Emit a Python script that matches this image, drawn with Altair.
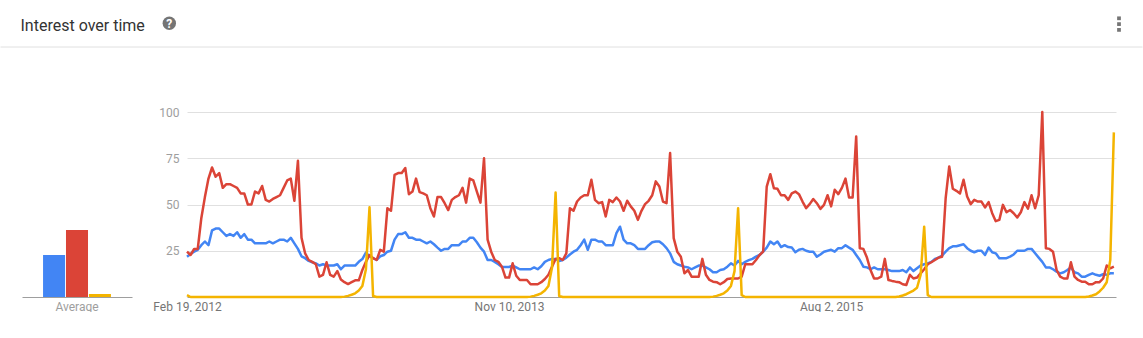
import altair as alt
import pandas as pd

# ---------------- data ----------------
series_names = ["Search term 1", "Search term 2", "Search term 3"]
series_colors = ["#4285F4", "#DB4437", "#F4B400"]

# averages (left mini bar chart)
avg_values = [22.7, 36.2, 1.6]
avg_label = "Average"

# weekly interest, first week = Feb 19, 2012
blue = [
    21.8, 23.3, 24.5, 25.5, 28, 30, 28, 36, 37, 37,
    35, 33, 34, 33, 35, 32, 34, 31, 31, 29,
    29, 29, 29, 30, 29, 30, 31, 31, 30, 32,
    29, 26, 22, 21, 19.5, 18.8, 18.2, 17, 17.7, 17,
    17, 17, 17.7, 15, 17, 17, 17, 17, 19, 20.5,
    24, 22, 21, 20, 22, 22.7, 24.5, 25, 31, 34,
    34, 35, 32, 32, 31, 31, 30, 29, 30, 28.5,
    26.7, 25, 26, 26, 28, 28, 28, 30, 30, 32,
    32, 29.6, 26.7, 24.5, 20, 20, 19, 17.7, 16.2, 16.2,
    16.2, 17, 16, 15, 15, 15, 15, 16, 15, 16.6,
    19, 20, 20.6, 20.6, 19.5, 20, 21.3, 23, 24.5, 25.5,
    28, 31, 25.5, 31, 31, 30, 30, 28, 28, 28,
    34.5, 38, 31, 29, 29, 28, 26, 26, 26, 28,
    29.6, 30, 30, 28.5, 26.4, 23.6, 19, 17.7, 17, 16.4,
    16, 15, 16, 17, 17, 16, 15, 13.4, 13.4, 14.6,
    15, 16.4, 18.2, 17, 19.5, 17.7, 19, 19.9, 20.6, 21.8,
    22.7, 24.5, 26.7, 30, 28.5, 30, 27, 28, 27, 26.7,
    24.2, 25.5, 26, 25, 24.5, 24.5, 21.8, 23, 24.5, 25,
    25.5, 24.5, 26.4, 26.4, 28, 26.7, 25.5, 22.7, 20, 16.4,
    16, 15, 16, 15, 15, 15, 14.6, 14, 14, 14,
    14.6, 13.4, 16, 14, 15.5, 17, 17.7, 18.2, 19, 20.6,
    21.3, 22.4, 24.5, 26.4, 27.4, 27.4, 28, 28.5, 26.4, 25,
    24.2, 25, 25, 22.7, 26.7, 24.2, 23.6, 21, 21, 21,
    21.8, 23, 25, 25, 25, 26, 26, 23.6, 21.3, 19,
    16, 16, 15, 13.7, 12.8, 13.4, 14.6, 16, 13.4, 12.8,
    11, 11, 12, 12.8, 12, 11.5, 12.3, 12, 12.8, 12.8,
]

red = [
    24.5, 22.7, 26, 26, 42.6, 54, 64, 70, 65, 67,
    59, 61, 61, 60, 59, 56, 56, 50, 50, 57,
    56, 60, 52.5, 51.6, 53, 54, 55, 59, 63, 64,
    52, 73.6, 32, 23.6, 20, 19, 17.7, 11, 12, 18.8,
    12, 11, 14, 9.5, 8, 7, 8, 9, 9, 14.6,
    19, 22.7, 21, 20, 25.5, 24.5, 48, 46.6, 66, 67,
    67, 69.7, 55.6, 57, 64, 56.7, 56, 55, 48, 43.5,
    54, 54, 50.7, 47, 52.5, 54, 55, 59, 51, 64,
    63, 57, 51, 75, 31, 24.5, 20, 19, 16.4, 10.5,
    10.5, 18.2, 11.5, 9.2, 9.2, 9.2, 6.9, 6.9, 6.9, 8,
    9.7, 12, 16.4, 20.6, 21, 20, 23.6, 48, 46.6, 51.6,
    53.8, 55, 55, 63.4, 52.5, 50.7, 51.3, 43.5, 52.5, 51.3,
    53.8, 51.6, 46.6, 52, 49, 46.6, 41.7, 46.6, 50.2, 52,
    55, 62.5, 59.7, 51.6, 50.7, 77.8, 31.8, 24.5, 21.8, 12.8,
    14.6, 11, 11, 11, 20.6, 12, 9.2, 8.3, 8, 6.9,
    8, 9.7, 10, 10, 10, 11, 17.7, 17.7, 17.7, 20,
    22.7, 24.5, 59.7, 66.4, 58.8, 58.5, 55, 55, 52.5, 56,
    57, 55.6, 51.6, 48, 50.2, 53, 50.7, 47.6, 49.8, 55,
    49, 58, 55.6, 59, 64, 53.8, 53.8, 86.8, 26.4, 26,
    21.3, 14.6, 10, 10, 11, 20.6, 9.2, 8.7, 8.3, 8,
    6.9, 6.5, 12, 10, 10.5, 12.8, 15, 17.7, 18.8, 20,
    21.3, 21.8, 53.4, 70.6, 58.5, 57.4, 56, 63.4, 54.3, 50.2,
    52.5, 51.6, 51.6, 48.4, 51.3, 45.3, 41, 41.7, 49.8, 45.8,
    47, 45.3, 43, 45.8, 51.3, 47.7, 55, 48, 55, 100,
    26.4, 26, 24.5, 14.6, 11, 10, 10, 18.8, 11, 9.2,
    8.3, 8.3, 6.9, 6.9, 8, 8, 10, 17, 15.5, 16.4,
]

yellow = [
    1, 0, 0, 0, 0, 0, 0, 0, 0, 0,
    0, 0, 0, 0, 0, 0, 0, 0, 0, 0,
    0, 0, 0, 0, 0, 0, 0, 0, 0, 0,
    0, 0, 0, 0, 0, 0, 0, 0, 0, 0,
    0, 0, 0, 0, 0.2, 0.6, 1.2, 2, 3.5, 6,
    15, 48.5, 0.5, 0, 0, 0, 0, 0, 0, 0,
    0, 0, 0, 0, 0, 0, 0, 0, 0, 0,
    0, 0, 0, 0, 0, 0, 0, 0, 0, 0,
    0, 0, 0, 0, 0, 0, 0, 0, 0, 0,
    0, 0, 0, 0, 0, 0, 0.2, 0.6, 1.2, 2,
    3.5, 6, 16, 56.5, 0.5, 0, 0, 0, 0, 0,
    0, 0, 0, 0, 0, 0, 0, 0, 0, 0,
    0, 0, 0, 0, 0, 0, 0, 0, 0, 0,
    0, 0, 0, 0, 0, 0, 0, 0, 0, 0,
    0, 0, 0, 0, 0, 0, 0, 0.2, 0.6, 1.2,
    2, 3.5, 6, 14, 48, 1, 0, 0, 0, 0,
    0, 0, 0, 0, 0, 0, 0, 0, 0, 0,
    0, 0, 0, 0, 0, 0, 0, 0, 0, 0,
    0, 0, 0, 0, 0, 0, 0, 0, 0, 0,
    0, 0, 0, 0, 0, 0, 0, 0, 0, 0.3,
    0.8, 1.5, 2.5, 3.5, 5, 12, 38, 1, 0, 0,
    0, 0, 0, 0, 0, 0, 0, 0, 0, 0,
    0, 0, 0, 0, 0, 0, 0, 0, 0, 0,
    0, 0, 0, 0, 0, 0, 0, 0, 0, 0,
    0, 0, 0, 0, 0, 0, 0, 0, 0, 0,
    0, 0, 0.3, 0.8, 1.5, 3, 5, 8, 20, 89,
]

start_date = "2012-02-19"
tick_dates = ["2012-02-19", "2013-11-10", "2015-08-02"]
tick_labels = ["Feb 19, 2012", "Nov 10, 2013", "Aug 2, 2015"]
y_ticks = [25, 50, 75, 100]

# ---------------- tables ----------------
rows = []
for name, vals in zip(series_names, [blue, red, yellow]):
    for i, v in enumerate(vals):
        rows.append({"week": i, "value": v, "series": name})
df = pd.DataFrame(rows)

t0 = pd.Timestamp(start_date)
tick_weeks = [int((pd.Timestamp(d) - t0).days // 7) for d in tick_dates]
label_expr = ""
for w, lab in zip(tick_weeks, tick_labels):
    label_expr += f"datum.value == {w} ? '{lab}' : "
label_expr += "''"

bar_df = pd.DataFrame({"group": [avg_label] * 3, "series": series_names, "value": avg_values})

FONT = "Roboto"
GRID = "#e0e0e0"
AXISLINE = "#9e9e9e"

# ---------------- left: averages + header decorations ----------------
bars = alt.Chart(bar_df).mark_bar().encode(
    x=alt.X("group:N", title=None,
            scale=alt.Scale(paddingInner=0, paddingOuter=0.31),
            axis=alt.Axis(ticks=False, labelAngle=0, domainColor=AXISLINE,
                          labelColor="#9e9e9e", labelFontSize=12, labelPadding=4,
                          labelFont=FONT)),
    xOffset=alt.XOffset("series:N", sort=series_names,
                        scale=alt.Scale(paddingInner=0.04, paddingOuter=0)),
    y=alt.Y("value:Q", scale=alt.Scale(domain=[0, 100]), axis=None),
    color=alt.Color("series:N", scale=alt.Scale(domain=series_names, range=series_colors),
                    legend=None),
)

one = alt.Data(values=[{"k": 1}])
anchor = alt.Chart(one).mark_rule(color="white", strokeWidth=1).encode(
    x=alt.value(-21.5), x2=alt.value(0), y=alt.value(-111.5))
separator = alt.Chart(one).mark_rule(color=GRID, strokeWidth=1).encode(
    x=alt.value(-21.5), x2=alt.value(1120.5), y=alt.value(-65))
title = alt.Chart(one).mark_text(align="left", baseline="alphabetic", fontSize=16,
                                 font=FONT, color="#333333").encode(
    x=alt.value(-1.5), y=alt.value(-81.5), text=alt.value("Interest over time"))
help_circle = alt.Chart(one).mark_circle(color="#757575", opacity=1, size=180).encode(
    x=alt.value(147.3), y=alt.value(-88.7))
help_q = alt.Chart(one).mark_text(align="center", baseline="middle", fontSize=12,
                                  fontWeight="bold", font=FONT, color="white").encode(
    x=alt.value(147.3), y=alt.value(-88.2), text=alt.value("?"))
dots = [
    alt.Chart(one).mark_square(color="#757575", opacity=1, size=14).encode(
        x=alt.value(1097), y=alt.value(yy))
    for yy in (-93.7, -87.9, -82.1)
]

left = alt.layer(bars, anchor, separator, title, help_circle, help_q, *dots).properties(
    width=110, height=185)

# ---------------- right: interest over time ----------------
base = alt.Chart(df).encode(
    x=alt.X("week:Q", title=None,
            scale=alt.Scale(domain=[0, 259.6], nice=False, zero=False),
            axis=alt.Axis(values=tick_weeks, labelExpr=label_expr, grid=False, ticks=False,
                          domainColor=AXISLINE, labelColor="#757575", labelFontSize=12,
                          labelPadding=4, labelFlush=False, labelOverlap=False,
                          labelFont=FONT)),
    y=alt.Y("value:Q", title=None,
            scale=alt.Scale(domain=[0, 100], nice=False),
            axis=alt.Axis(values=y_ticks, grid=True, gridColor=GRID, domain=False,
                          ticks=False, labelColor="#9e9e9e", labelFontSize=12,
                          labelPadding=8, labelFont=FONT)),
)

line_layers = [
    base.transform_filter(alt.datum.series == name).mark_line(
        color=col, strokeWidth=2.5, strokeJoin="round")
    for name, col in zip(series_names, series_colors)
]
right = alt.layer(*line_layers).properties(width=929, height=185)

chart = (
    alt.hconcat(left, right, spacing=55, bounds="flush")
    .properties(padding=0, background="white")
    .configure(font=FONT)
    .configure_view(strokeWidth=0, stroke=None)
)

chart.save("out.html", embed_options={"renderer": "svg", "actions": False})
